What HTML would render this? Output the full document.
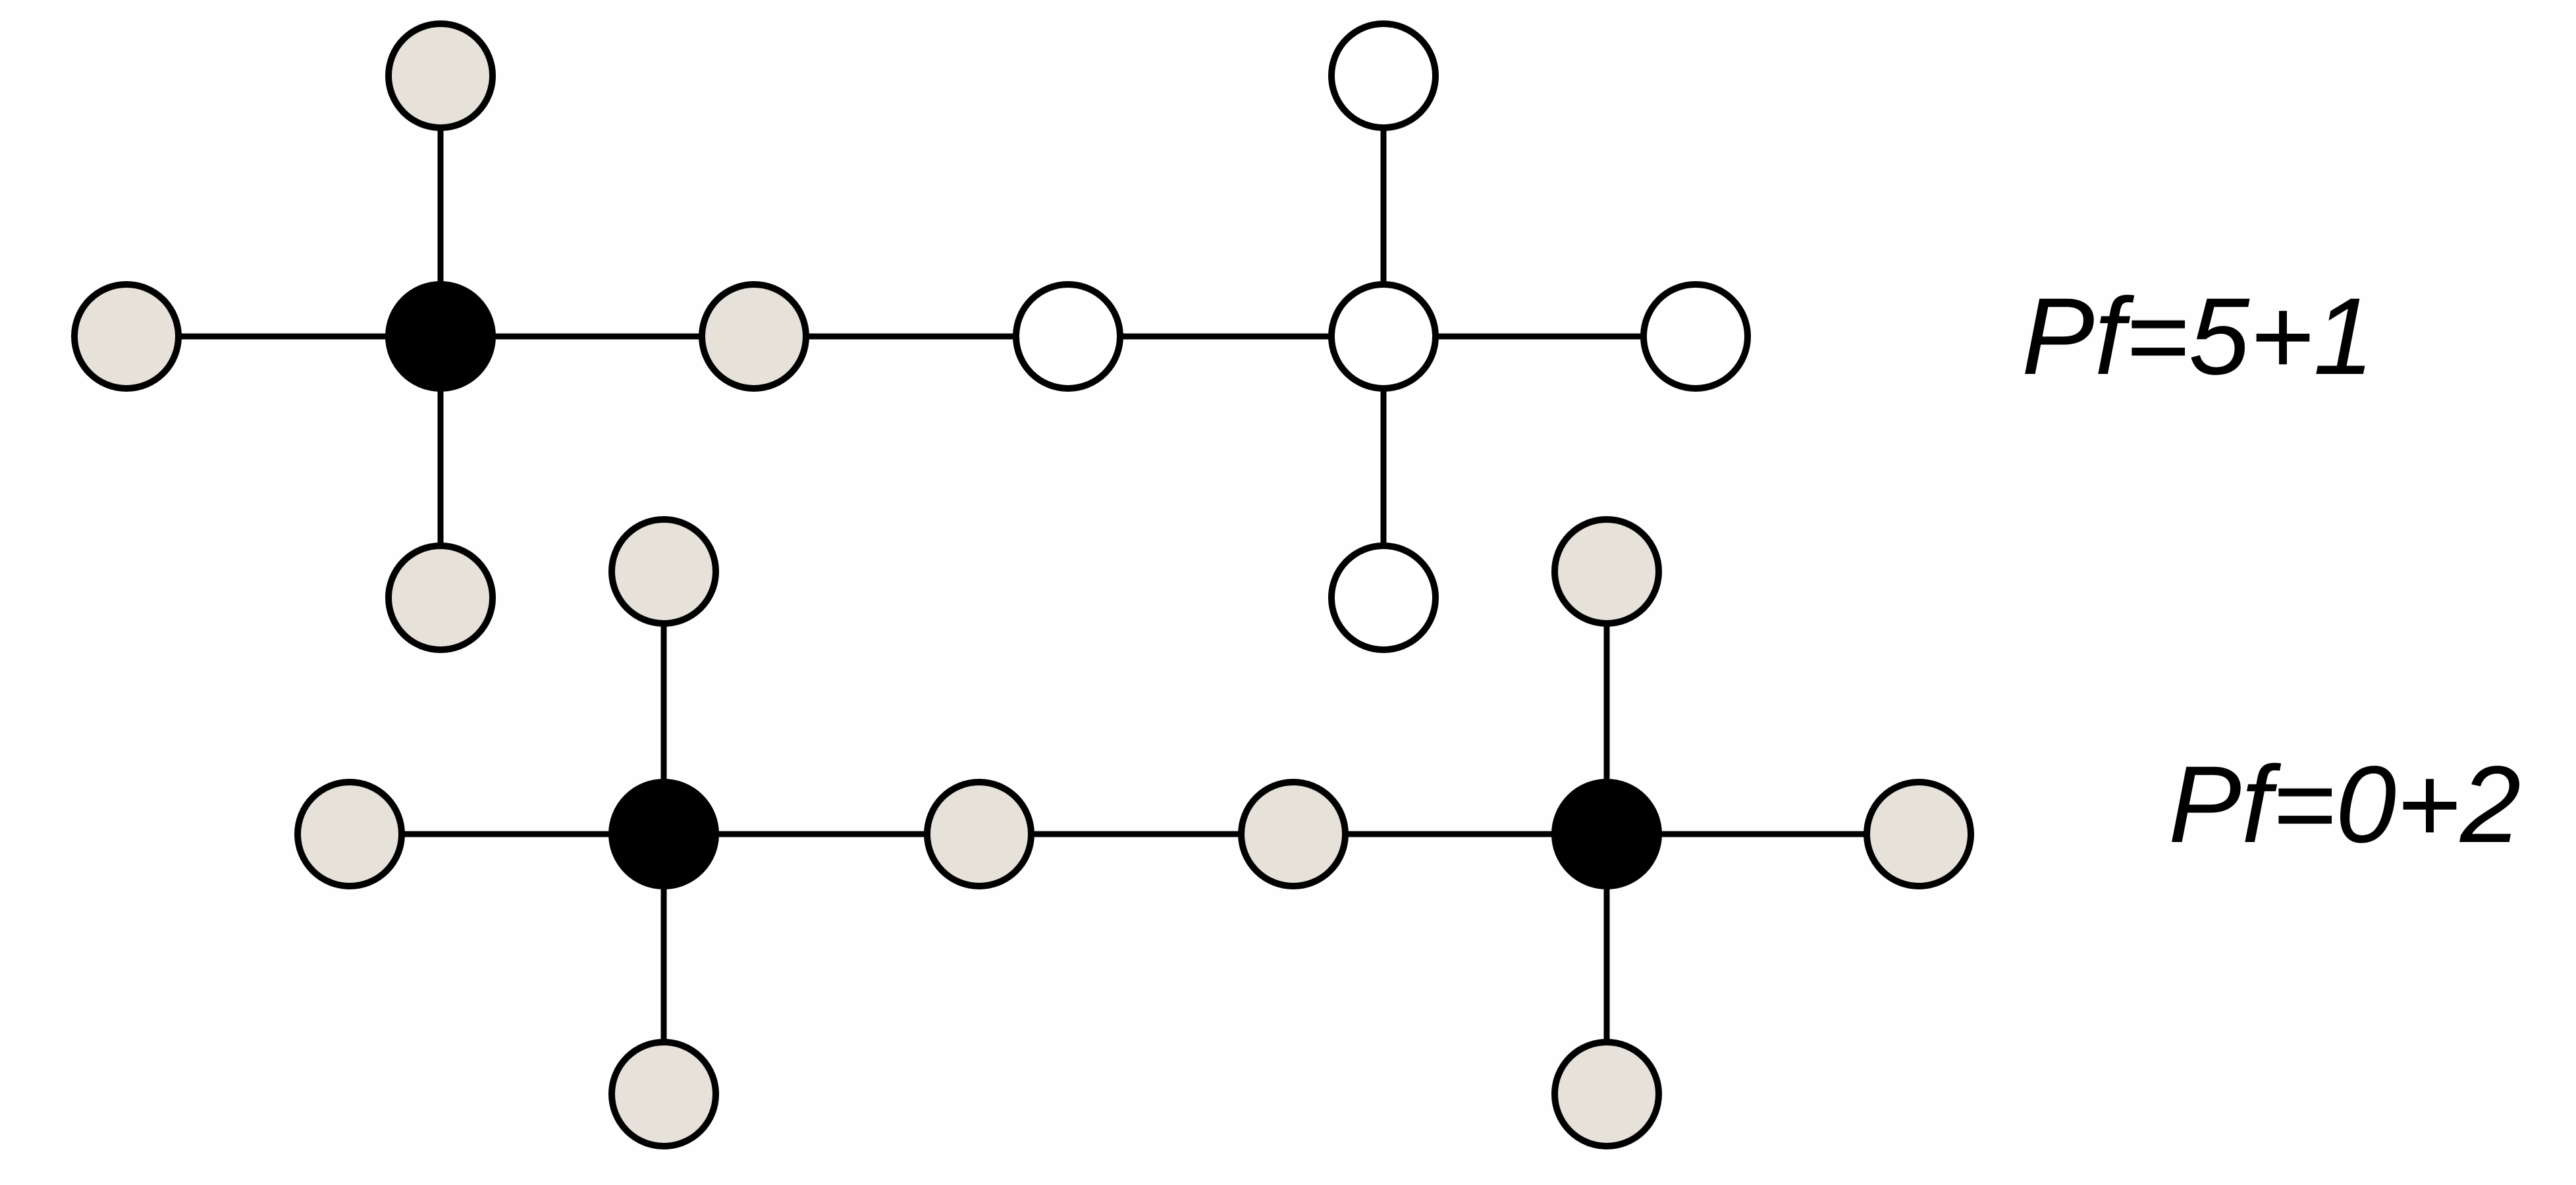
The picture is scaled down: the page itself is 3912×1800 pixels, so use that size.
<!DOCTYPE html>
<html><head><meta charset="utf-8"><style>
html,body{margin:0;padding:0;background:#fefefe;}
svg{display:block;}
</style></head><body>
<svg width="3912" height="1800" viewBox="0 0 3912 1800">
<g id="g"></g>
<text x="3070" y="568" font-family="Liberation Sans, sans-serif" font-style="italic" font-size="166" fill="#000">Pf=5+1</text>
<text x="3293" y="1279" font-family="Liberation Sans, sans-serif" font-style="italic" font-size="166" fill="#000">Pf=0+2</text>
</svg>
<script>
const nodeX = [192,669,1145,1622,2101,2575, 531,1008,1487,1964,2440,2914, 669,669,2101,2101, 1008,1008,2440,2440];
const nodeY = [511,511,511,511,511,511, 1267,1267,1267,1267,1267,1267, 115,908,115,908, 868,1662,868,1662];
const nodeType = ['g','b','g','w','w','w', 'g','b','g','g','b','g', 'g','g','w','w', 'g','g','g','g'];
const edges = [[0,1],[1,2],[2,3],[3,4],[4,5],[6,7],[7,8],[8,9],[9,10],[10,11],[12,1],[1,13],[14,4],[4,15],[16,7],[7,17],[18,10],[10,19]];
const NS='http://www.w3.org/2000/svg';
const g=document.getElementById('g');
const fills={g:'#e6e1d9',b:'#000',w:'#fff'};
edges.forEach(([a,b],i)=>{
  const l=document.createElementNS(NS,'line');
  l.setAttribute('x1',nodeX[a]);l.setAttribute('y1',nodeY[a]);
  l.setAttribute('x2',nodeX[b]);l.setAttribute('y2',nodeY[b]);
  l.setAttribute('stroke','#000');l.setAttribute('stroke-width','9');
  
  
  g.appendChild(l);
});
nodeX.forEach((x,i)=>{
  const c=document.createElementNS(NS,'circle');
  c.setAttribute('cx',x);c.setAttribute('cy',nodeY[i]);c.setAttribute('r','79');
  c.setAttribute('fill',fills[nodeType[i]]);c.setAttribute('stroke','#000');c.setAttribute('stroke-width','10');
  
  
  g.appendChild(c);
});
</script>
</body></html>
